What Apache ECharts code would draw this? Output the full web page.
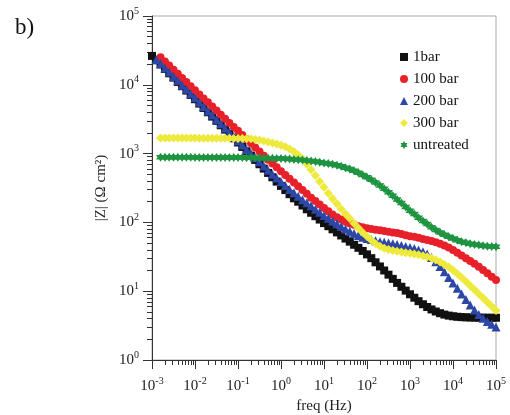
<!DOCTYPE html>
<html>
<head>
<meta charset="utf-8">
<script src="https://cdn.jsdelivr.net/npm/echarts@6/dist/echarts.min.js"></script>
<style>
  html, body { margin: 0; padding: 0; background: #fff; }
  #chart { width: 510px; height: 415px; }
</style>
</head>
<body>
<div id="chart"></div>
<script>
// Measurement frequencies (Hz), 10 points per decade
const freqHz = [
  0.001, 0.00126, 0.00158, 0.002, 0.00251, 0.00316, 0.00398, 0.00501, 0.00631, 0.00794,
  0.01, 0.0126, 0.0158, 0.02, 0.0251, 0.0316, 0.0398, 0.0501, 0.0631, 0.0794,
  0.1, 0.126, 0.158, 0.2, 0.251, 0.316, 0.398, 0.501, 0.631, 0.794,
  1, 1.26, 1.58, 2, 2.51, 3.16, 3.98, 5.01, 6.31, 7.94,
  10, 12.6, 15.8, 20, 25.1, 31.6, 39.8, 50.1, 63.1, 79.4,
  100, 126, 158, 200, 251, 316, 398, 501, 631, 794,
  1000, 1260, 1580, 2000, 2510, 3160, 3980, 5010, 6310, 7940,
  10000, 12600, 15800, 20000, 25100, 31600, 39800, 50100, 63100, 79400, 100000
];

// |Z| (Ω cm²) for each treatment, aligned with freqHz (null = not measured)
const z1bar = [
  26300, 22700, 19700, 17000, 14700, 12700, 11000, 9530, 8240, 7130,
  6170, 5330, 4610, 3990, 3450, 2990, 2580, 2230, 1930, 1670,
  1450, 1250, 1080, 935, 809, 700, 605, 524, 453, 392,
  339, 295, 257, 224, 200, 176, 155, 138, 123, 110,
  97.7, 88.1, 79.4, 71.6, 64.6, 58.2, 52.5, 47.3, 42.7, 38.5,
  34.3, 30.2, 26.3, 22.9, 20.0, 17.4, 15.1, 13.2, 11.6, 10.2,
  9.02, 8.04, 7.16, 6.46, 5.89, 5.43, 5.07, 4.79, 4.57, 4.42,
  4.32, 4.25, 4.20, 4.17, 4.15, 4.14, 4.12, 4.12, 4.11, 4.11, 4.11
];
const z100bar = [
  null, null, 25100, 21900, 19100, 16600, 14500, 12600, 11000, 9550,
  8320, 7240, 6310, 5560, 4840, 4220, 3670, 3200, 2790, 2430,
  2140, 1860, 1620, 1410, 1230, 1070, 933, 813, 716, 631,
  556, 490, 432, 380, 335, 295, 260, 229, 204, 182,
  162, 145, 130, 119, 110, 102, 96.6, 92.3, 88.1, 85.1,
  82.2, 80.4, 78.5, 76.7, 75.0, 73.3, 71.6, 70.0, 67.6, 65.3,
  63.1, 61.7, 59.6, 57.5, 55.6, 53.7, 51.3, 49.0, 46.2, 43.2,
  39.8, 36.3, 33.1, 30.2, 27.5, 25.1, 22.6, 20.4, 18.2, 16.2, 14.5
];
const z200bar = [
  null, 23400, 20400, 17600, 15300, 13200, 11500, 9890, 8610, 7410,
  6460, 5560, 4840, 4170, 3630, 3130, 2720, 2340, 2040, 1760,
  1530, 1330, 1150, 1000, 871, 759, 661, 575, 501, 442,
  389, 343, 302, 269, 240, 214, 193, 174, 155, 140,
  126, 115, 105, 95.5, 87.1, 80.4, 74.1, 69.2, 64.6, 61.0,
  58.2, 56.2, 54.3, 52.5, 51.3, 50.1, 49.0, 47.9, 46.2, 44.7,
  43.2, 41.7, 39.8, 37.6, 34.7, 30.9, 26.9, 22.9, 19.1, 15.8,
  13.2, 11.0, 9.12, 7.59, 6.31, 5.31, 4.57, 4.03, 3.63, 3.31, 3.02
];
const z300bar = [
  null, null, 1680, 1680, 1680, 1680, 1680, 1680, 1680, 1680,
  1680, 1670, 1670, 1670, 1670, 1670, 1670, 1670, 1670, 1660,
  1660, 1660, 1650, 1640, 1600, 1570, 1530, 1480, 1430, 1380,
  1320, 1260, 1170, 1070, 955, 832, 700, 582, 479, 394,
  324, 266, 221, 186, 157, 133, 114, 96.6, 83.2, 71.6,
  62.4, 55.0, 49.0, 45.2, 42.2, 40.3, 38.9, 38.0, 37.2, 36.3,
  35.5, 34.7, 33.9, 32.7, 31.6, 30.2, 28.5, 26.6, 24.5, 22.4,
  20.2, 18.0, 15.8, 13.8, 12.0, 10.5, 9.12, 7.94, 6.92, 6.03, 5.25
];
const zUntreated = [
  null, null, 885, 885, 884, 884, 883, 883, 882, 882,
  881, 881, 880, 880, 879, 879, 878, 878, 877, 876,
  875, 874, 872, 870, 867, 864, 861, 858, 855, 852,
  849, 841, 832, 822, 813, 804, 794, 782, 767, 750,
  733, 716, 700, 676, 653, 624, 596, 562, 525, 490,
  452, 417, 380, 343, 309, 275, 245, 216, 191, 168,
  148, 132, 117, 105, 94.4, 85.1, 77.6, 71.6, 66.1, 61.7,
  58.2, 55.0, 52.5, 50.7, 49.0, 47.9, 46.8, 45.7, 45.2, 44.7, 44.2
];

const seriesNames = ['1bar', '100 bar', '200 bar', '300 bar', 'untreated'];

// Decade tick positions
const xDecades = [0.001, 0.01, 0.1, 1, 10, 100, 1000, 10000, 100000];
const yDecades = [1, 10, 100, 1000, 10000, 100000];

const FONT = "'Liberation Serif', 'Times New Roman', serif";
const INK = '#222';

function minorTicks(decades) {
  const out = [];
  for (let i = 0; i < decades.length - 1; i++) {
    for (let m = 2; m <= 9; m++) out.push(decades[i] * m);
  }
  return out;
}

function pairs(values) {
  const out = [];
  values.forEach((v, i) => { if (v !== null) out.push([freqHz[i], v]); });
  return out;
}

function powLabel(v) {
  const e = Math.round(Math.log10(v));
  return '{b|10}{s|' + e + '}';
}

const labelRich = {
  b: { fontFamily: FONT, fontSize: 15, color: INK, lineHeight: 20 },
  s: { fontFamily: FONT, fontSize: 10, color: INK, lineHeight: 10, verticalAlign: 'top' }
};

const starPath = 'path://M0,-10 L2.9,-5 L8.7,-5 L5.8,0 L8.7,5 L2.9,5 L0,10 L-2.9,5 L-8.7,5 L-5.8,0 L-8.7,-5 L-2.9,-5 Z';

const styles = [
  { data: z1bar, symbol: 'rect', size: 8, color: '#111111' },
  { data: z100bar, symbol: 'circle', size: 8, color: '#e8202a' },
  { data: z200bar, symbol: 'triangle', size: 9, color: '#2d47a6' },
  { data: z300bar, symbol: 'diamond', size: 9, color: '#eeea3c' },
  { data: zUntreated, symbol: starPath, size: 9, color: '#1f9440' }
];

function majorAxis(extra) {
  return Object.assign({
    type: 'log',
    logBase: 10,
    axisLine: { show: true, onZero: false, lineStyle: { color: '#333', width: 1 } },
    splitLine: { show: false },
    minorTick: { show: false }
  }, extra);
}

function minorAxis(extra) {
  return Object.assign({
    type: 'log',
    logBase: 10,
    axisLine: { show: false, onZero: false },
    axisLabel: { show: false },
    splitLine: { show: false }
  }, extra);
}

const chart = echarts.init(document.getElementById('chart'), null, { renderer: 'canvas' });

chart.setOption({
  animation: false,
  backgroundColor: '#fff',
  title: {
    text: 'b)',
    left: 10,
    top: 11,
    textStyle: { fontFamily: FONT, fontSize: 23, fontWeight: 'normal', color: '#111' }
  },
  legend: {
    data: seriesNames,
    orient: 'vertical',
    left: 395,
    top: 44,
    itemWidth: 8,
    itemHeight: 8,
    itemGap: 6,
    textStyle: { fontFamily: FONT, fontSize: 15, color: '#111', lineHeight: 16 }
  },
  grid: {
    left: 152, right: 14, top: 16, bottom: 55,
    show: true,
    borderColor: '#aaaaaa',
    borderWidth: 1,
    containLabel: false,
    outerBoundsMode: 'none'
  },
  xAxis: [
    majorAxis({
      min: 0.001, max: 100000, position: 'bottom',
      axisTick: { show: true, inside: false, length: 9, customValues: xDecades, lineStyle: { color: '#333', width: 1 } },
      axisLabel: { customValues: xDecades, formatter: powLabel, rich: labelRich, margin: 16 },
      name: 'freq (Hz)',
      nameLocation: 'middle',
      nameGap: 37,
      nameTextStyle: { fontFamily: FONT, fontSize: 15, color: INK }
    }),
    minorAxis({
      min: 0.001, max: 100000, position: 'bottom',
      axisTick: { show: true, inside: false, length: 5, customValues: minorTicks(xDecades), lineStyle: { color: '#333', width: 1 } }
    })
  ],
  yAxis: [
    majorAxis({
      min: 1, max: 100000, position: 'left',
      axisTick: { show: true, inside: false, length: 9, customValues: yDecades, lineStyle: { color: '#333', width: 1 } },
      axisLabel: { customValues: yDecades, formatter: powLabel, rich: labelRich, margin: 13 },
      name: '|Z| (Ω cm²)',
      nameLocation: 'middle',
      nameGap: 38,
      nameRotate: 90,
      nameTextStyle: { fontFamily: FONT, fontSize: 15, color: INK }
    }),
    minorAxis({
      min: 1, max: 100000, position: 'left', offset: 0,
      axisTick: { show: true, inside: false, length: 5, customValues: minorTicks(yDecades), lineStyle: { color: '#333', width: 1 } }
    })
  ],
  series: styles.map((s, i) => ({
    name: seriesNames[i],
    type: 'scatter',
    xAxisIndex: 0,
    yAxisIndex: 0,
    symbol: s.symbol,
    symbolSize: s.size,
    itemStyle: { color: s.color, opacity: 1 },
    data: pairs(s.data)
  }))
});
</script>
</body>
</html>
